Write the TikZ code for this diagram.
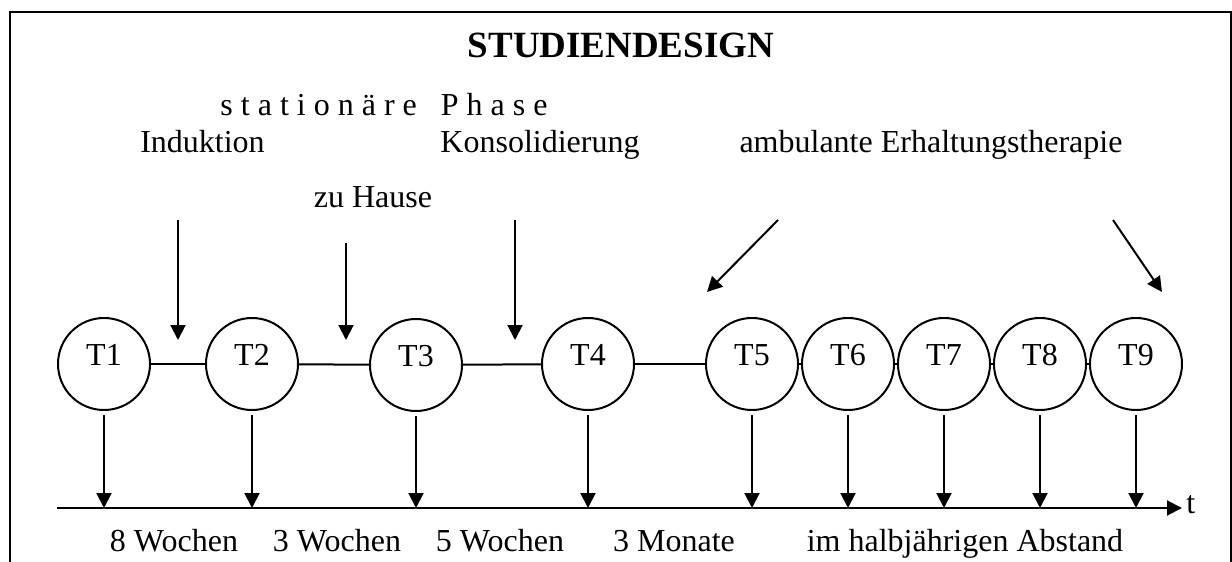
\documentclass[tikz,border=0pt]{standalone}
\usepackage{fontspec}
\setmainfont{Liberation Serif}
\usetikzlibrary{arrows.meta}
\begin{document}
\begin{tikzpicture}[x=0.5pt,y=-0.5pt,
  txt/.style={anchor=base,inner sep=0pt,font=\fontsize{16}{19}\selectfont},
  ttl/.style={anchor=base,inner sep=0pt,font=\fontsize{18.5}{22}\selectfont\bfseries},
  tp/.style={circle,draw,line width=1pt,minimum size=46pt,inner sep=0pt,
    font=\fontsize{16}{19}\selectfont,text height=10.6pt,text depth=9.5pt},
  arr/.style={line width=1pt,-{Triangle[length=7.5pt,width=7.5pt]}},
  ln/.style={line width=1pt}]
\useasboundingbox (0,0) rectangle (1232,562);
% frame (open at the bottom)
\draw[ln] (10,562) -- (10,11.5) -- (1230.5,11.5) -- (1230.5,562);

% texts
\node[ttl] (title) at (621,57) {STUDIENDESIGN};
\node[txt] (stat) at (384,115) {s t a t i o n ä r e \ \ P h a s e};
\node[txt] (ind) at (202.5,152) {Induktion};
\node[txt] (kons) at (540,152) {Konsolidierung};
\node[txt] (amb) at (931,152) {ambulante Erhaltungstherapie};
\node[txt] (haus) at (373,207) {zu Hause};

% time points
\node[tp] (T1) at (104,364) {T1};
\node[tp] (T2) at (252,364) {T2};
\node[tp] (T3) at (416,365) {T3};
\node[tp] (T4) at (588,364) {T4};
\node[tp] (T5) at (752,364) {T5};
\node[tp] (T6) at (848,364) {T6};
\node[tp] (T7) at (944,364) {T7};
\node[tp] (T8) at (1040,364) {T8};
\node[tp] (T9) at (1136,364) {T9};
\foreach \a/\b in {T1/T2,T2/T3,T3/T4,T4/T5,T5/T6,T6/T7,T7/T8,T8/T9}
  \draw[ln] (\a) -- (\b);

% phase arrows
\coordinate (i0) at (178,220); \coordinate (i1) at (178,340);
\coordinate (h0) at (346,243); \coordinate (h1) at (346,340);
\coordinate (k0) at (515,220); \coordinate (k1) at (515,340);
\coordinate (a0) at (778,220); \coordinate (a1) at (707,292);
\coordinate (b0) at (1113,220); \coordinate (b1) at (1162,292);
\draw[arr] (i0) -- (i1);
\draw[arr] (h0) -- (h1);
\draw[arr] (k0) -- (k1);
\draw[arr] (a0) -- (a1);
\draw[arr] (b0) -- (b1);

% time axis
\coordinate (ax0) at (57,508);
\coordinate (ax1) at (1182,508);
\draw[arr] (ax0) -- (ax1);
\node[txt,anchor=base west] (tl) at (1186,513) {t};
\foreach \t in {T1,T2,T3,T4,T5,T6,T7,T8,T9}
  \draw[arr,shorten <=2pt] (\t.south) -- (\t.south |- ax0);

% interval labels
\node[txt] (w8) at (174,551) {8 Wochen};
\node[txt] (w3) at (337,551) {3 Wochen};
\node[txt] (w5) at (500,551) {5 Wochen};
\node[txt] (m3) at (674,551) {3 Monate};
\node[txt] (hj) at (965,551) {im halbjährigen Abstand};
\end{tikzpicture}
\end{document}
